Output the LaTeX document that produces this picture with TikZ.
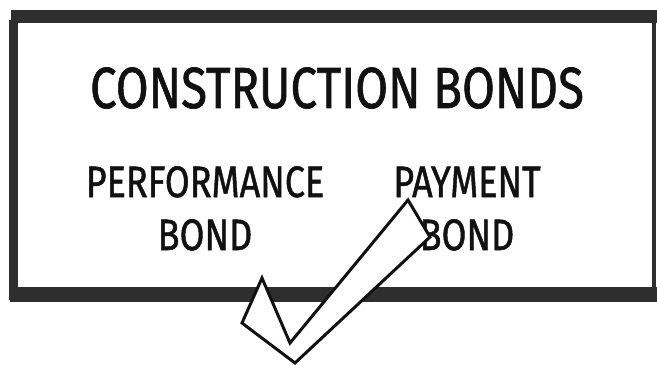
\documentclass[tikz,border=0pt]{standalone}
\usepackage{fontspec}
\setmainfont{Fira Sans}
\newfontfamily\handfont{Fira Sans}[FakeBold=1.2]
\usetikzlibrary{positioning}
\definecolor{rim}{HTML}{2E2E2E}
\definecolor{ink}{HTML}{111111}
\newcommand{\narrow}[1]{\scalebox{0.82}[1]{#1}}

\begin{document}
\begin{tikzpicture}[x=0.02cm,y=-0.02cm,
  headtext/.style={font=\handfont\fontsize{33}{33}\selectfont,text=ink,anchor=base,inner sep=0pt},
  bondtext/.style={font=\handfont\fontsize{25}{25}\selectfont,text=ink,anchor=base,inner sep=0pt}]
\useasboundingbox (0,0) rectangle (657,365);
\fill[white] (0,0) rectangle (657,365);

% frame
\fill[rim] (11,10) rectangle (657,23);
\fill[rim] (9,20) rectangle (18,300);
\fill[rim] (652,23) rectangle (656,290);
\fill[rim] (10,287) rectangle (657,302);

\node[headtext] (title) at (337,108) {\narrow{CONSTRUCTION BONDS}};

\node[bondtext] (perf) at (205,197) {\narrow{PERFORMANCE}};
\node[bondtext] (perfb) at (205,250) {\narrow{BOND}};
\node[bondtext] (pay) at (467,197) {\narrow{PAYMENT}};
\node[bondtext] (payb) at (467,250) {\narrow{BOND}};

% tick
\filldraw[fill=white,draw=ink,line width=1.7pt,line join=miter]
  (262,278) -- (242,323) -- (295,363) -- (430,237) -- (408,200) -- (290,343) -- cycle;
\end{tikzpicture}
\end{document}
